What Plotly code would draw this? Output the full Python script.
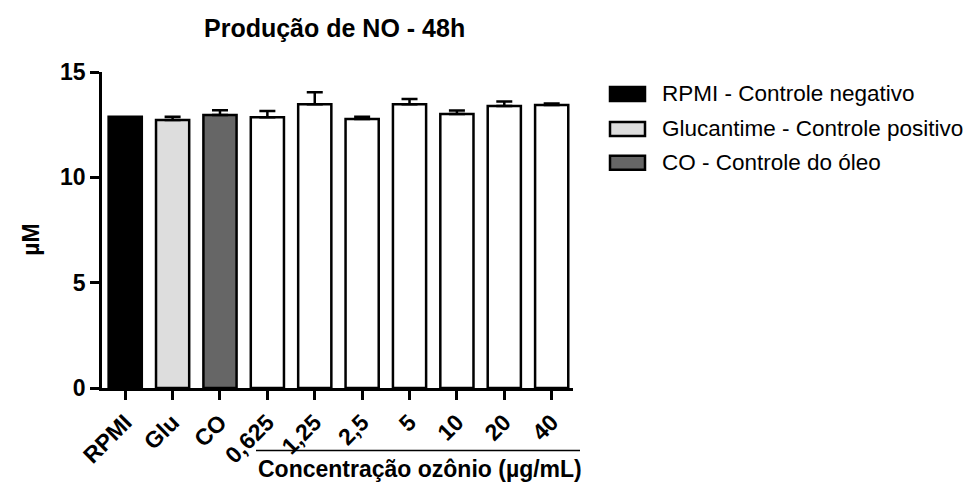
import plotly.graph_objects as go

# Nitric oxide production after 48 h (µM), mean and upper SEM
categories = ["RPMI", "Glu", "CO", "0,625", "1,25", "2,5", "5", "10", "20", "40"]
values = [12.87, 12.72, 12.96, 12.85, 13.47, 12.77, 13.47, 13.01, 13.39, 13.43]
errors = [0.0, 0.15, 0.23, 0.30, 0.57, 0.10, 0.25, 0.16, 0.21, 0.07]

control_names = ["RPMI - Controle negativo", "Glucantime - Controle positivo", "CO - Controle do óleo"]
control_colors = ["#000000", "#DDDDDD", "#666666"]
ozone_color = "#FFFFFF"

FONT = "Liberation Sans"

# plot-area geometry in pixels (used to place free annotations/shapes)
W, H = 975, 484
X0, X1 = 102, 573
Y0, Y1 = 72, 388.5


def px(x):
    return (x - X0) / (X1 - X0)


def py(y):
    return (Y1 - y) / (Y1 - Y0)


fig = go.Figure()

bar_style = dict(marker_line_color="black", marker_line_width=2.5, width=0.7, showlegend=False)
err_style = dict(type="data", symmetric=False, color="black", thickness=2.5, width=8)

# control groups, one trace each
for i in range(3):
    fig.add_trace(go.Bar(
        x=[categories[i]], y=[values[i]],
        marker_color=control_colors[i],
        error_y=dict(array=[errors[i]], arrayminus=[0], visible=errors[i] > 0, **err_style),
        name=control_names[i],
        **bar_style,
    ))

# ozone concentrations
fig.add_trace(go.Bar(
    x=categories[3:], y=values[3:],
    marker_color=ozone_color,
    error_y=dict(array=errors[3:], arrayminus=[0] * 7, **err_style),
    name="Ozônio",
    **bar_style,
))

axis_common = dict(
    showline=True, linecolor="black", linewidth=2.5,
    ticks="outside", tickcolor="black", tickwidth=2.5, ticklen=9,
    showgrid=False, zeroline=False,
)

fig.update_layout(
    width=W, height=H,
    margin=dict(l=X0, r=W - X1, t=Y0, b=H - Y1, autoexpand=False),
    paper_bgcolor="white", plot_bgcolor="white",
    barmode="overlay",
    showlegend=False,
    xaxis=dict(
        type="category", categoryorder="array", categoryarray=categories,
        range=[-0.49, 9.45], tickangle=-45,
        tickfont=dict(family=FONT, size=23, color="black", weight="bold"),
        **axis_common,
    ),
    yaxis=dict(
        range=[0, 15], tickvals=[0, 5, 10, 15],
        tickfont=dict(family=FONT, size=23, color="black", weight="bold"),
        **axis_common,
    ),
)

annotations = [
    dict(text="Produção de NO - 48h", x=px(334), y=py(28),
         font=dict(family=FONT, size=25, color="black", weight="bold")),
    dict(text="µM", x=px(31), y=py(240), textangle=-90,
         font=dict(family=FONT, size=23, color="black", weight="bold")),
    dict(text="Concentração ozônio (µg/mL)", x=px(420), y=py(470),
         font=dict(family=FONT, size=23, color="black", weight="bold")),
]
for a in annotations:
    a.update(xref="paper", yref="paper", showarrow=False, xanchor="center", yanchor="middle")

shapes = [
    # bracket line under the ozone concentrations
    dict(type="line", xref="paper", yref="paper",
         x0=px(256), x1=px(580), y0=py(451), y1=py(451),
         line=dict(color="black", width=1.5)),
]

# legend drawn as swatches + labels
legend_rows = [94, 129, 163]
for name, color, yc in zip(control_names, control_colors, legend_rows):
    shapes.append(dict(type="rect", xref="paper", yref="paper",
                       x0=px(610), x1=px(645), y0=py(yc - 7), y1=py(yc + 7),
                       fillcolor=color, line=dict(color="black", width=2.5)))
    annotations.append(dict(text=name, xref="paper", yref="paper",
                            x=px(660), y=py(yc), xanchor="left", yanchor="middle",
                            showarrow=False,
                            font=dict(family=FONT, size=22.5, color="black")))

fig.update_layout(annotations=annotations, shapes=shapes)

fig.write_html("out.html")
